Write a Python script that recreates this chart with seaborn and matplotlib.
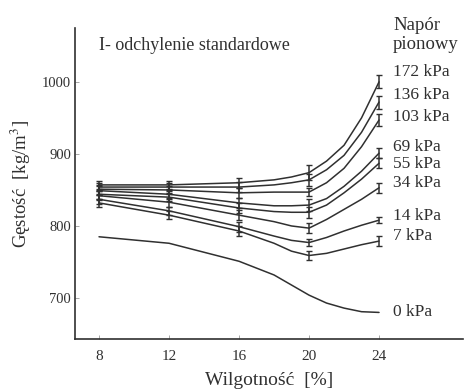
import numpy as np
import pandas as pd
import matplotlib
matplotlib.use("Agg")
import matplotlib.pyplot as plt
import seaborn as sns

# ---- data ----
moisture = [8, 12, 16, 18, 19, 20, 21, 22, 23, 24]
pressures = ["172 kPa", "136 kPa", "103 kPa", "69 kPa", "55 kPa", "34 kPa", "14 kPa", "7 kPa"]
dens_172 = [857, 857, 860, 864, 868, 874, 890, 912, 950, 1000]
dens_136 = [854, 854, 854, 857, 860, 864, 878, 898, 930, 972]
dens_103 = [851, 850, 846, 847, 847, 847, 860, 880, 910, 947]
dens_69 = [849, 844, 832, 828, 828, 829, 838, 855, 876, 901]
dens_55 = [844, 840, 825, 820, 819, 819, 829, 846, 865, 887]
dens_34 = [842, 833, 815, 806, 800, 797, 809, 823, 837, 853]
dens_14 = [837, 821, 799, 786, 780, 777, 784, 793, 801, 808]
dens_7 = [832, 815, 793, 776, 765, 759, 762, 768, 774, 779]

moisture_0 = [8, 12, 16, 18, 19, 20, 21, 22, 23, 24]
dens_0 = [785, 776, 751, 732, 718, 704, 693, 686, 681, 680]

err_moisture = [8, 12, 16, 20, 24]
sd_172 = [6, 6, 7, 10, 9]
sd_136 = [6, 6, 7, 8, 9]
sd_103 = [6, 6, 7, 6, 8]
sd_69 = [6, 6, 7, 8, 7]
sd_55 = [6, 6, 7, 8, 7]
sd_34 = [6, 6, 7, 7, 7]
sd_14 = [6, 6, 7, 5, 4]
sd_7 = [6, 6, 7, 6, 7]

series = [dens_172, dens_136, dens_103, dens_69, dens_55, dens_34, dens_14, dens_7]
sds = [sd_172, sd_136, sd_103, sd_69, sd_55, sd_34, sd_14, sd_7]

rows = []
for name, vals in zip(pressures, series):
    for m, v in zip(moisture, vals):
        rows.append({"m": m, "d": v, "p": name})
for m, v in zip(moisture_0, dens_0):
    rows.append({"m": m, "d": v, "p": "0 kPa"})
df = pd.DataFrame(rows)

sns.set_style("ticks")
plt.rcParams["font.family"] = ["Liberation Serif", "DejaVu Serif"]
plt.rcParams["mathtext.fontset"] = "stix"

col = "#303030"
fig = plt.figure(figsize=(4.72, 3.92), dpi=100)
ax = fig.add_axes([0.159, 0.135, 0.822, 0.794])

order = pressures + ["0 kPa"]
sns.lineplot(data=df, x="m", y="d", hue="p", hue_order=order,
             palette=[col] * len(order), legend=False, ax=ax,
             linewidth=1.1, sort=True, estimator=None)

for vals, sd in zip(series, sds):
    yv = [vals[moisture.index(m)] for m in err_moisture]
    ax.errorbar(err_moisture, yv, yerr=sd, fmt="none", ecolor=col,
                elinewidth=1.1, capsize=2.2, capthick=1.0)

ax.set_xlim(6.63, 28.8)
ax.set_ylim(643, 1075)
ax.set_xticks([8, 12, 16, 20, 24])
ax.set_yticks([700, 800, 900, 1000])
ax.tick_params(axis="both", direction="in", length=3, width=0.6, color="#999999",
               labelcolor=col)
ax.tick_params(axis="x", labelsize=11, pad=8)
ax.tick_params(axis="y", labelsize=10.5, pad=3)
sns.despine(ax=ax)
for s in ["left", "bottom"]:
    ax.spines[s].set_color(col)
    ax.spines[s].set_linewidth(1.2)

ax.set_xlabel("Wilgotność  [%]", fontsize=14, color=col, labelpad=6)
ax.set_ylabel("Gęstość  [kg/m$^3$]", fontsize=13.5, color=col, labelpad=6)

# curve labels
label_offsets = [14, 10, 4, 8, -1, 7, 6, 7]
for name, vals, off in zip(pressures, series, label_offsets):
    ax.text(24.8, vals[-1] + off, name, fontsize=12.5, color=col, va="center", ha="left")
ax.text(24.8, dens_0[-1] + 1, "0 kPa", fontsize=12.5, color=col, va="center", ha="left")

ax.text(24.8, 1065, "Napór\npionowy", fontsize=13.5, color=col, va="center", ha="left",
        linespacing=1.1)
ax.text(8.0, 1050, "I- odchylenie standardowe", fontsize=13, color=col, va="center", ha="left")

fig.savefig("out.png", dpi=100, facecolor="white")
